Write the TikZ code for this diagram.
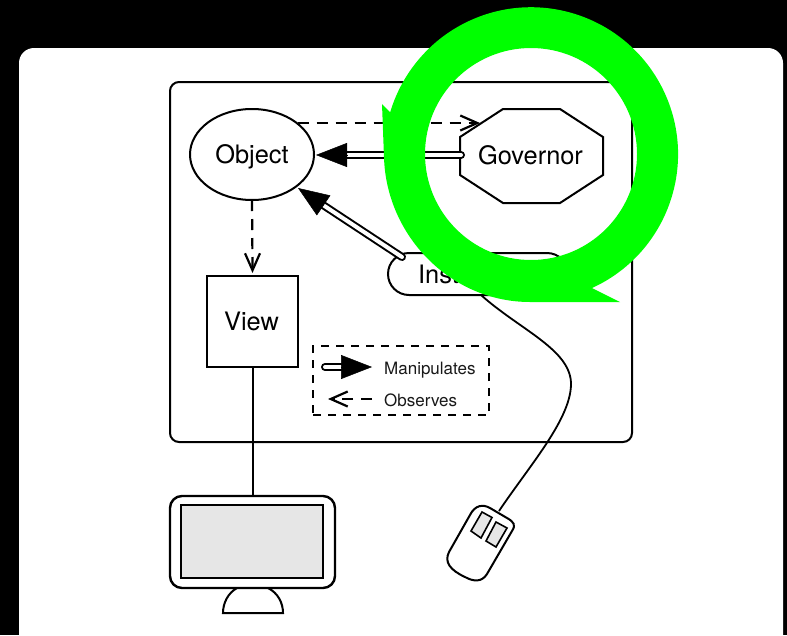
\documentclass[tikz,border=0pt]{standalone}
\usepackage{fontspec}
\setmainfont{TeX Gyre Heros}
\usetikzlibrary{arrows.meta,shapes.geometric,shapes.misc}
\definecolor{ringgreen}{RGB}{0,255,0}
\definecolor{panelgray}{RGB}{230,230,230}
\tikzset{
  ln/.style={draw=black,line width=2pt},
  lbl/.style={font=\fontsize{25.4}{25.4}\selectfont,text height=18pt,text depth=0pt,inner sep=0pt,outer sep=0pt},
  small/.style={font=\fontsize{17}{17}\selectfont,text height=12pt,text depth=0pt,inner sep=0pt,anchor=west,text=black!90},
  boxnode/.style={ln,inner sep=0pt,outer sep=0pt},
  obs/.style={draw=black,line width=2.2pt,dash pattern=on 11pt off 8pt},
  obstip/.style={draw=black,line width=2.2pt,solid,-{Straight Barb[length=17pt,width=15pt,line width=2.2pt]}},
  shaft/.style={draw=black,line width=2pt,double=white,double distance=4pt,line cap=round},
  mtip/.style={draw=black,line width=.5pt,-{Triangle[length=31pt,width=24pt,fill=black]}},
}
\begin{document}
\begin{tikzpicture}[x=1pt,y=-1pt]
\useasboundingbox (0,0) rectangle (787,635);
\clip (0,0) rectangle (787,635);
\fill[black] (0,0) rectangle (787,635);
\fill[white,rounded corners=15pt] (19,48) rectangle (783,650);
% frame
\node[boxnode,rounded corners=9pt,minimum width=462pt,minimum height=360pt] (frame) at (401,262) {};
% nodes
\node[boxnode,ellipse,minimum width=124pt,minimum height=91pt,lbl] (obj) at (252,154.5) {Object};
\draw[ln,line join=miter] (503,109)--(560,109)--(603,137)--(603,175)--(560,203)--(503,203)--(460,175)--(460,137)--cycle;
\node[lbl,minimum width=143pt,minimum height=94pt] (gov) at (530.5,155) {Governor};
\node[boxnode,rounded rectangle,minimum width=180pt,minimum height=42pt,lbl] (inst) at (478,274) {Instrument};
\node[boxnode,minimum width=91pt,minimum height=91pt] (view) at (252.5,321.5) {};
\node[lbl] (viewtext) at (251.5,321.5) {View};
% free connector ends
\coordinate (govIn) at (480,123);
\coordinate (govInB) at (474,123);
\coordinate (viewIn) at (252.5,273);
\coordinate (viewInB) at (252.5,266);
\coordinate (instOut) at (402,257);
\coordinate (mouseTop) at (499,511);
\coordinate (instBot) at (481,295);
\coordinate (objIn) at (298,188);
% connectors
\draw[obs] (obj.34 |- govIn) -- (govInB);
\draw[obstip] (govInB) -- (govIn);
\draw[obs] (obj.south) -- (viewInB);
\draw[obstip] (viewInB) -- (viewIn);
\draw[shaft,shorten >=29pt] (gov.west) ++(2,0) -- (317,155);
\draw[mtip] (347,155) -- (316,155);
\draw[shaft] (instOut) -- (323,205);
\draw[mtip] (323,205) -- (objIn);
\draw[ln,line width=1.8pt] (instBot) .. controls (520,330) and (572,350) .. (571,385) .. controls (570,420) and (530,465) .. (mouseTop);
% monitor
\node[boxnode,rounded corners=12pt,minimum width=165pt,minimum height=92pt,fill=white,line width=2.4pt] (mon) at (252.5,542) {};
\node[boxnode,minimum width=142pt,minimum height=73pt,fill=panelgray,line width=2.4pt] (screen) at (252,541.5) {};
\draw[ln] (view.south) -- (mon.north -| view.south);
\draw[ln] (237,588) .. controls (228,593) and (223,603) .. (223,613) -- (283,613) .. controls (283,603) and (278,593) .. (268,588);
% mouse
\draw[ln,fill=white] (470,515) .. controls (475,505) and (483,504) .. (490,508) -- (507,518) .. controls (514,522) and (516,525) .. (512,531) -- (487,574) .. controls (482,582) and (474,582) .. (465,577) .. controls (450,570) and (444,562) .. (449,552) -- cycle;
\draw[ln,fill=panelgray,line width=1.6pt] (482,512)--(492,517.5)--(481,538)--(471,531)--cycle;
\draw[ln,fill=panelgray,line width=1.6pt] (496,522)--(507,528)--(496,547)--(486,541)--cycle;
% legend
\node[draw=black,line width=2.2pt,dash pattern=on 8pt off 7pt,inner sep=0pt,minimum width=176pt,minimum height=69pt] (legend) at (401,380.5) {};
\node[small] (lm) at (384,368.5) {Manipulates};
\node[small] (lo) at (384,400.5) {Observes};
\coordinate (ma) at (325,367);
\coordinate (mb) at (341,367);
\coordinate (mc) at (372,367);
\coordinate (oa) at (372,399);
\coordinate (ob) at (328,399);
\coordinate (obb) at (335,399);
\draw[shaft] (ma) -- (mb);
\draw[mtip] (mb) -- (mc);
\draw[obs] (oa) -- (obb);
\draw[obstip] (obb) -- (ob);
% ring
\fill[ringgreen,even odd rule] (382,104) -- (384,157) .. controls (386,235) and (450,302) .. (530,302) -- (620,302) -- (592,288) arc[start angle=-65.5,end angle=163.4,radius=147pt] -- cycle
  (531,154) circle[radius=106pt];
\end{tikzpicture}
\end{document}
